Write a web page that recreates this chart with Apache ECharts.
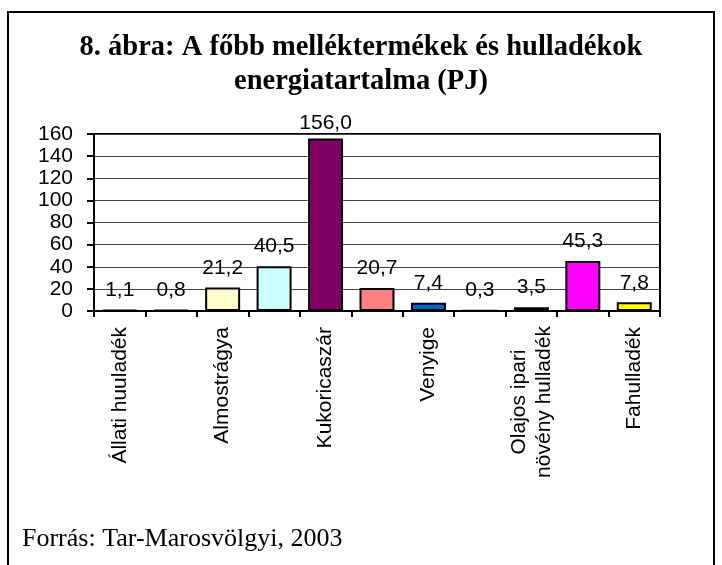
<!DOCTYPE html>
<html>
<head>
<meta charset="utf-8">
<script src="https://cdn.jsdelivr.net/npm/echarts@6/dist/echarts.min.js"></script>
<style>
  html, body { margin: 0; padding: 0; background: #fff; }
  #chart { width: 722px; height: 565px; }
</style>
</head>
<body>
<div id="chart"></div>
<script>
// categories (every second one has its label hidden, as in the original)
var categories = [
  'Állati huuladék', 'Hígtrágya', 'Almostrágya', 'Gabonaszalma',
  'Kukoricaszár', 'Napraforgószár', 'Venyige', 'Gyümölcsfa nyesedék',
  'Olajos ipari\nnövény hulladék', 'Erdészeti hulladék', 'Fahulladék'
]
var values = [1.1, 0.8, 21.2, 40.5, 156.0, 20.7, 7.4, 0.3, 3.5, 45.3, 7.8]
var barColors = ['#9999FF', '#993366', '#FFFFCC', '#CCFFFF', '#800066', '#FF8080',
  '#0066CC', '#CCCCFF', '#000080', '#FF00FF', '#FFFF00']
var yTicks = [0, 20, 40, 60, 80, 100, 120, 140, 160]

var myChart = echarts.init(document.getElementById('chart'))

var option = {
  animation: false,
  backgroundColor: '#fff',
  title: {
    text: '8. ábra: A főbb melléktermékek és hulladékok\nenergiatartalma (PJ)',
    left: 'center',
    top: 26,
    textStyle: {
      fontFamily: 'Liberation Serif',
      fontWeight: 'bold',
      fontSize: 28.5,
      lineHeight: 34,
      color: '#000'
    }
  },
  graphic: [
    {
      type: 'rect',
      shape: { x: 8, y: 12, width: 706, height: 600 },
      style: { fill: 'none', stroke: '#000', lineWidth: 2 },
      silent: true
    },
    {
      type: 'text',
      left: 22,
      top: 526,
      style: {
        text: 'Forrás: Tar-Marosvölgyi, 2003',
        fontFamily: 'Liberation Serif',
        fontSize: 26,
        fill: '#000'
      }
    }
  ],
  grid: {
    left: 94,
    right: 62,
    top: 134,
    bottom: 254,
    show: true,
    borderColor: '#000',
    borderWidth: 2
  },
  xAxis: {
    type: 'category',
    data: categories,
    axisLine: { lineStyle: { color: '#000', width: 2 } },
    axisTick: { show: true, interval: 0, length: 6, lineStyle: { color: '#000', width: 2 } },
    axisLabel: {
      interval: 1,
      rotate: 90,
      margin: 16,
      fontFamily: 'Liberation Sans',
      fontSize: 21,
      color: '#000',
      formatter: function (v) {
        if (v.indexOf('\n') < 0) return v
        return v.split('\n').map(function (s) { return '{c|' + s + '}' }).join('\n')
      },
      rich: {
        c: { width: 150, align: 'center', fontFamily: 'Liberation Sans', fontSize: 21, color: '#000', lineHeight: 25 }
      }
    }
  },
  yAxis: {
    type: 'value',
    min: yTicks[0],
    max: yTicks[yTicks.length - 1],
    interval: 20,
    axisLine: { show: true, lineStyle: { color: '#000', width: 2 } },
    axisTick: { show: true, length: 7, lineStyle: { color: '#000', width: 2 } },
    axisLabel: {
      margin: 21,
      fontFamily: 'Liberation Sans',
      fontSize: 21,
      color: '#000'
    },
    splitLine: { show: true, lineStyle: { color: '#444', width: 1 } }
  },
  series: [{
    type: 'bar',
    data: values.map(function (v, i) {
      var item = { value: v, itemStyle: { color: barColors[i] } }
      // the tallest bar's label sits a bit closer (it runs into the frame top)
      if (v === Math.max.apply(null, values)) item.label = { distance: 5 }
      return item
    }),
    barWidth: '68%',
    itemStyle: { borderColor: '#000', borderWidth: 2 },
    label: {
      show: true,
      position: 'top',
      distance: 9,
      fontFamily: 'Liberation Sans',
      fontSize: 21,
      color: '#000',
      formatter: function (p) { return p.value.toFixed(1).replace('.', ',') }
    }
  }]
}

myChart.setOption(option)
window.onresize = function () { myChart.resize() }
</script>
</body>
</html>
